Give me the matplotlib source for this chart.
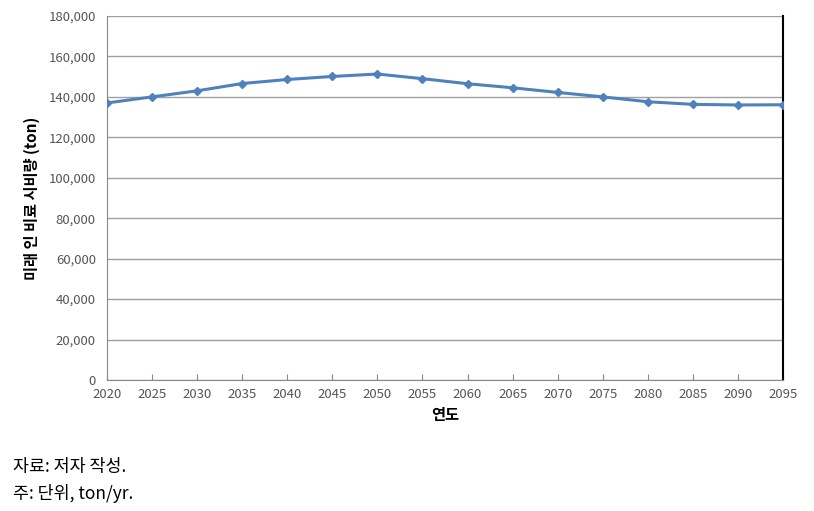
import matplotlib.pyplot as plt
from matplotlib.ticker import FuncFormatter

plt.rcParams['font.family'] = ['Noto Sans CJK KR', 'DejaVu Sans']

years = [2020, 2025, 2030, 2035, 2040, 2045, 2050, 2055,
         2060, 2065, 2070, 2075, 2080, 2085, 2090, 2095]
usage = [137000, 140000, 143000, 146600, 148600, 150100, 151300, 149000,
         146500, 144500, 142200, 140000, 137600, 136300, 136000, 136100]
y_ticks = list(range(0, 180001, 20000))

fig = plt.figure(figsize=(8.14, 5.11), dpi=100)
ax = fig.add_axes([0.1314, 0.2564, 0.8306, 0.7123])

ax.plot(years, usage, color='#4F81BD', lw=2.2, marker='D', ms=4.5,
        markerfacecolor='#4F81BD', markeredgecolor='#4F81BD', zorder=3)

ax.set_xlim(2020, 2095)
ax.set_ylim(0, 180000)
ax.set_xticks(years)
ax.set_yticks(y_ticks)
ax.yaxis.set_major_formatter(FuncFormatter(lambda v, p: f"{int(v):,}"))
ax.grid(axis='y', color='#A0A0A0', lw=1)
ax.set_axisbelow(True)

for s in ['left', 'bottom', 'top']:
    ax.spines[s].set_color('#888888')
ax.spines['top'].set_visible(False)
ax.spines['right'].set_color('black')
ax.spines['right'].set_linewidth(1.5)

ax.tick_params(axis='y', length=0, labelsize=9.5, labelcolor='#555555', pad=8)
ax.tick_params(axis='x', direction='in', length=4, color='#888888',
               labelsize=9.5, labelcolor='#555555', pad=6)

ax.set_xlabel('연도', fontsize=11, fontweight='bold', labelpad=4)
ax.set_ylabel('미래 인 비료 시비량 (ton)', fontsize=11, fontweight='bold', labelpad=6)

fig.text(0.016, 0.086, '자료: 저자 작성.', fontsize=12.5, va='center')
fig.text(0.016, 0.035, '주: 단위, ton/yr.', fontsize=12.5, va='center')

fig.savefig('out.png', dpi=100)
